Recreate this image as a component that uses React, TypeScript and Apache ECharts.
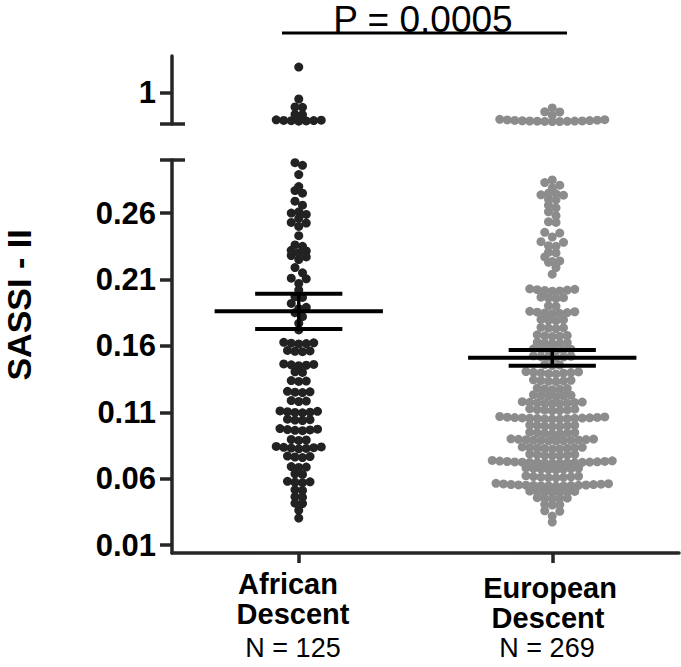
import React, { useEffect, useRef } from 'react';
import * as echarts from 'echarts';

// ---------------- data ----------------
const categoryLines = [
  ['African', 'Descent'],
  ['European', 'Descent'],
];
const groupN = [125, 269];
const lowerTickValues = [0.01, 0.06, 0.11, 0.16, 0.21, 0.26];
const upperTickValues = [1];
const pValueText = 'P = 0.0005';

const africanUpper = [1.371, 0.91, 0.795, 0.79, 0.69, 0.685, 0.6, 0.595, 0.605, 0.59, 0.602, 0.598, 0.61];

const africanLower = [
  0.298, 0.296, 0.289, 0.28, 0.277, 0.275, 0.269, 0.266, 0.261, 0.26,
  0.259, 0.256, 0.253, 0.2525, 0.25, 0.243, 0.236, 0.235, 0.232, 0.2315,
  0.23, 0.228, 0.227, 0.225, 0.219, 0.215, 0.211, 0.2105, 0.207, 0.202,
  0.197, 0.1965, 0.192, 0.189, 0.188, 0.185, 0.182, 0.177, 0.172,
  0.1614, 0.1617, 0.162, 0.1623, 0.1627,
  0.1556, 0.1559, 0.1562, 0.1566,
  0.1451, 0.1454, 0.1457, 0.146, 0.1464,
  0.14, 0.1405,
  0.1332, 0.1335, 0.1339,
  0.1248, 0.1251, 0.1254, 0.1258,
  0.1181, 0.1184, 0.1188,
  0.1096, 0.1099, 0.1101, 0.1104, 0.1107, 0.111,
  0.1038, 0.1041, 0.1044, 0.1048,
  0.0961, 0.0964, 0.0967, 0.097, 0.0973, 0.0977,
  0.0888, 0.0891, 0.0895,
  0.0825, 0.0828, 0.083, 0.0833, 0.0836, 0.0839, 0.0843,
  0.0759, 0.0763, 0.0766, 0.077,
  0.0684, 0.0687, 0.0691,
  0.0632, 0.0637,
  0.057, 0.0573, 0.0576, 0.058,
  0.0511, 0.0516,
  0.046, 0.0464,
  0.0412, 0.0415,
  0.0362,
  0.0303,
];

const europeanUpper = [
  0.781, 0.723, 0.726, 0.675,
  0.585, 0.586, 0.587, 0.589, 0.59, 0.592, 0.593, 0.595, 0.597, 0.6, 0.602, 0.605, 0.608, 0.612, 0.618,
];

const europeanLower = [
  0.285, 0.283, 0.281, 0.279, 0.2745, 0.2735, 0.275, 0.2738, 0.2705, 0.27,
  0.266, 0.264, 0.261, 0.258, 0.2535, 0.253, 0.2455, 0.245, 0.242, 0.2385,
  0.238, 0.2355, 0.235, 0.2305, 0.23, 0.227, 0.224, 0.2235, 0.223, 0.219, 0.214,
  0.2012, 0.2014, 0.2017, 0.202, 0.2023, 0.2026, 0.203,
  0.1957, 0.196, 0.1963, 0.1967,
  0.1898, 0.1902,
  0.1842, 0.1845, 0.1848, 0.1851, 0.1854, 0.1857, 0.186,
  0.179, 0.1793, 0.1796, 0.1799,
  0.173, 0.1733, 0.1736, 0.174,
  0.167, 0.1673, 0.1676, 0.1679, 0.1683,
  0.1616, 0.1619, 0.1622, 0.1625, 0.1628,
  0.1563, 0.1566, 0.1569, 0.1572, 0.1575, 0.1578,
  0.151, 0.1513, 0.1516, 0.1519, 0.1522, 0.1525,
  0.1452, 0.1455, 0.1459,
  0.1389, 0.1391, 0.1394, 0.1396, 0.1399, 0.1401, 0.1404, 0.1407,
  0.133, 0.1333, 0.1335, 0.1338, 0.1341, 0.1344,
  0.127, 0.1273, 0.1276, 0.1279, 0.1282,
  0.1217, 0.122, 0.1223, 0.1226, 0.1229, 0.1232,
  0.1163, 0.1165, 0.1167, 0.1169, 0.1171, 0.1173, 0.1175, 0.1177, 0.118,
  0.1111, 0.1113, 0.1116, 0.1118, 0.112, 0.1123, 0.1126,
  0.1048, 0.1049, 0.105, 0.1052, 0.1053, 0.1054, 0.1055, 0.1056, 0.1057, 0.1058, 0.106, 0.1061, 0.1063, 0.1065, 0.1068,
  0.0992, 0.0994, 0.0996, 0.0998, 0.1, 0.1002, 0.1005,
  0.0937, 0.0939, 0.0941, 0.0943, 0.0945, 0.0947, 0.095,
  0.0884, 0.0885, 0.0887, 0.0888, 0.0889, 0.089, 0.0892, 0.0893, 0.0894, 0.0896, 0.0898, 0.09,
  0.0824, 0.0826, 0.0828, 0.0829, 0.0831, 0.0832, 0.0834, 0.0836, 0.0839,
  0.0772, 0.0774, 0.0776, 0.0778, 0.078, 0.0782, 0.0785,
  0.0716, 0.0717, 0.0718, 0.0719, 0.072, 0.0721, 0.0722, 0.0723, 0.0724, 0.0725, 0.0726, 0.0727, 0.0729, 0.073, 0.0732, 0.0734, 0.0737,
  0.0666, 0.0668, 0.067, 0.0672, 0.0674, 0.0676, 0.0678, 0.0681,
  0.0606, 0.0608, 0.061, 0.0612, 0.0614, 0.0616, 0.0618, 0.0621,
  0.0544, 0.0545, 0.0546, 0.0547, 0.0548, 0.0549, 0.055, 0.0551, 0.0552, 0.0553, 0.0555, 0.0556, 0.0558, 0.056, 0.0562, 0.0565,
  0.0494, 0.0496, 0.0498, 0.05, 0.0502, 0.0504, 0.0507,
  0.0448, 0.045, 0.0452, 0.0454, 0.0457,
  0.0401, 0.0403, 0.0406,
  0.0354, 0.0358,
  0.0318,
  0.0273,
];

const meanValues = [0.186, 0.151];
const semValues = [0.0132, 0.0059];

// ---------------- layout / style constants ----------------
const W = 681;
const H = 667;
const AXIS_LEFT = 172;
const AXIS_RIGHT = 679;
const UPPER_TOP = 56;
const UPPER_BOTTOM = 124;
const LOWER_TOP = 160;
const LOWER_BOTTOM = 553;
const X_MIN = 0.5;
const X_MAX = 2.5;
const LOWER_MIN = 0.004;
const LOWER_MAX = 0.3;
const UPPER_MIN = 0.55;
const UPPER_MAX = 1.53;
const DOT = 9;
const SPACING = 7.5;
const BIN_PX = 5.8;
const MEAN_HALF = 0.332;
const CAP_HALF = 0.172;
const AXIS_COLOR = '#262626';
const AXIS_W = 3.5;
const FONT = "'Liberation Sans', Arial, Helvetica, sans-serif";
const DARK = '#222222';
const LIGHT = '#8c8c8c';

export default function App() {
  const ref = useRef<HTMLDivElement | null>(null);

  useEffect(() => {
    if (!ref.current) return;
    const chart = echarts.init(ref.current, null, { renderer: 'svg' });

    const yAxisCommon = {
      type: 'value',
      axisLine: { show: true, onZero: false, lineStyle: { color: AXIS_COLOR, width: AXIS_W } },
      axisTick: { show: true, length: 12, lineStyle: { color: AXIS_COLOR, width: AXIS_W } },
      splitLine: { show: false },
      axisLabel: {
        margin: 16,
        color: '#000',
        fontSize: 31,
        fontWeight: 'bold',
        fontFamily: FONT,
      },
    };

    const base: any = {
      animation: false,
      backgroundColor: '#ffffff',
      grid: [
        { left: AXIS_LEFT, top: UPPER_TOP, width: AXIS_RIGHT - AXIS_LEFT, height: UPPER_BOTTOM - UPPER_TOP, containLabel: false },
        { left: AXIS_LEFT, top: LOWER_TOP, width: AXIS_RIGHT - AXIS_LEFT, height: LOWER_BOTTOM - LOWER_TOP, containLabel: false },
      ],
      xAxis: [
        { type: 'value', gridIndex: 0, min: X_MIN, max: X_MAX, show: false },
        {
          type: 'value',
          gridIndex: 1,
          min: X_MIN,
          max: X_MAX,
          axisLine: { show: true, onZero: false, lineStyle: { color: AXIS_COLOR, width: AXIS_W } },
          axisTick: { show: true, length: 10, customValues: [1, 2], lineStyle: { color: AXIS_COLOR, width: AXIS_W } },
          axisLabel: { show: false },
          splitLine: { show: false },
        },
      ],
      yAxis: [
        {
          ...yAxisCommon,
          gridIndex: 0,
          min: UPPER_MIN,
          max: UPPER_MAX,
          axisTick: { ...yAxisCommon.axisTick, customValues: upperTickValues },
          axisLabel: { ...yAxisCommon.axisLabel, customValues: upperTickValues, formatter: (v: number) => String(v) },
        },
        {
          ...yAxisCommon,
          gridIndex: 1,
          min: LOWER_MIN,
          max: LOWER_MAX,
          axisTick: { ...yAxisCommon.axisTick, customValues: lowerTickValues },
          axisLabel: { ...yAxisCommon.axisLabel, customValues: lowerTickValues, formatter: (v: number) => v.toFixed(2) },
        },
      ],
      series: [],
    };
    chart.setOption(base);

    const toPxY = (axis: number, v: number) => {
      const p = chart.convertToPixel({ yAxisIndex: axis } as any, v) as any;
      if (typeof p === 'number' && isFinite(p)) return p;
      const top = axis === 0 ? UPPER_TOP : LOWER_TOP;
      const bot = axis === 0 ? UPPER_BOTTOM : LOWER_BOTTOM;
      const mn = axis === 0 ? UPPER_MIN : LOWER_MIN;
      const mx = axis === 0 ? UPPER_MAX : LOWER_MAX;
      return bot - ((v - mn) / (mx - mn)) * (bot - top);
    };
    const pxPerX = (() => {
      const a = chart.convertToPixel({ xAxisIndex: 1 } as any, 1) as any;
      const b = chart.convertToPixel({ xAxisIndex: 1 } as any, 2) as any;
      if (typeof a === 'number' && typeof b === 'number' && isFinite(a) && isFinite(b) && b !== a) return b - a;
      return (AXIS_RIGHT - AXIS_LEFT) / (X_MAX - X_MIN);
    })();

    // Prism-like scatter-dot layout: bin points into rows, spread each row horizontally
    const swarm = (values: number[], center: number, axis: number) => {
      const pts = values.map((v) => ({ v, py: toPxY(axis, v) })).sort((a, b) => a.v - b.v);
      const out: number[][] = [];
      let i = 0;
      while (i < pts.length) {
        let j = i;
        while (j < pts.length && pts[i].py - pts[j].py <= BIN_PX) j++;
        const n = j - i;
        for (let k = 0; k < n; k++) {
          let off: number;
          if (n % 2 === 1) {
            off = k === 0 ? 0 : Math.ceil(k / 2) * (k % 2 === 1 ? 1 : -1);
          } else {
            off = (Math.floor(k / 2) + 0.5) * (k % 2 === 0 ? 1 : -1);
          }
          out.push([center + (off * SPACING) / pxPerX, pts[i + k].v]);
        }
        i = j;
      }
      return out;
    };

    const scatter = (data: number[][], axis: number, color: string, name: string) => ({
      type: 'scatter',
      name,
      xAxisIndex: axis,
      yAxisIndex: axis,
      data,
      symbol: 'circle',
      symbolSize: DOT,
      itemStyle: { color, opacity: 1 },
      clip: false,
      silent: true,
      z: 2,
    });

    const line = (x1: number, y1: number, x2: number, y2: number, w: number, color: string) => ({
      type: 'line',
      silent: true,
      shape: { x1, y1, x2, y2 },
      style: { stroke: color, lineWidth: w },
    });
    const text = (t: string, x: number, y: number, size: number, bold: boolean, rotation = 0) => ({
      type: 'text',
      x,
      y,
      rotation,
      silent: true,
      style: {
        text: t,
        fill: '#000',
        font: `${bold ? 'bold ' : ''}${size}px ${FONT}`,
        textAlign: 'center',
        textVerticalAlign: 'middle',
      },
    });

    const meanData = meanValues.map((m, i) => [i + 1, m, semValues[i]]);

    chart.setOption({
      series: [
        scatter(swarm(africanUpper, 1, 0), 0, DARK, 'African upper'),
        scatter(swarm(africanLower, 1, 1), 1, DARK, 'African lower'),
        scatter(swarm(europeanUpper, 2, 0), 0, LIGHT, 'European upper'),
        scatter(swarm(europeanLower, 2, 1), 1, LIGHT, 'European lower'),
        {
          type: 'custom',
          name: 'mean ± SEM',
          xAxisIndex: 1,
          yAxisIndex: 1,
          data: meanData,
          silent: true,
          clip: false,
          z: 5,
          renderItem: (params: any, api: any) => {
            const x = api.value(0);
            const m = api.value(1);
            const s = api.value(2);
            const c = api.coord([x, m]);
            const l = api.coord([x - MEAN_HALF, m]);
            const r = api.coord([x + MEAN_HALF, m]);
            const t = api.coord([x, m + s]);
            const b = api.coord([x, m - s]);
            const cl = api.coord([x - CAP_HALF, m])[0];
            const cr = api.coord([x + CAP_HALF, m])[0];
            const st = { stroke: '#000', lineWidth: 4 };
            return {
              type: 'group',
              children: [
                { type: 'line', shape: { x1: l[0], y1: c[1], x2: r[0], y2: c[1] }, style: st },
                { type: 'line', shape: { x1: c[0], y1: t[1], x2: c[0], y2: b[1] }, style: { stroke: '#000', lineWidth: 3.5 } },
                { type: 'line', shape: { x1: cl, y1: t[1], x2: cr, y2: t[1] }, style: st },
                { type: 'line', shape: { x1: cl, y1: b[1], x2: cr, y2: b[1] }, style: st },
              ],
            };
          },
        },
      ],
      graphic: [
        // axis break caps
        line(AXIS_LEFT - 12, UPPER_BOTTOM, AXIS_LEFT + 13, UPPER_BOTTOM, AXIS_W, AXIS_COLOR),
        line(AXIS_LEFT - 12, LOWER_TOP, AXIS_LEFT + 13, LOWER_TOP, AXIS_W, AXIS_COLOR),
        // significance bracket
        line(282, 33, 567, 33, 3, '#000'),
        text(pValueText, 423, 19, 37, false),
        // y-axis title
        text('SASSI - II', 19, 305, 34, true, Math.PI / 2),
        // category labels
        text(categoryLines[0][0], 288, 584, 29, true),
        text(categoryLines[0][1], 293, 614, 29, true),
        text(`N = ${groupN[0]}`, 293, 648, 27, false),
        text(categoryLines[1][0], 550, 588, 29, true),
        text(categoryLines[1][1], 548, 618, 29, true),
        text(`N = ${groupN[1]}`, 547, 648, 27, false),
      ],
    });

    return () => {
      chart.dispose();
    };
  }, []);

  return (
    <div
      ref={ref}
      style={{ position: 'absolute', left: 0, top: 0, width: W, height: H, background: '#fff' }}
    />
  );
}
